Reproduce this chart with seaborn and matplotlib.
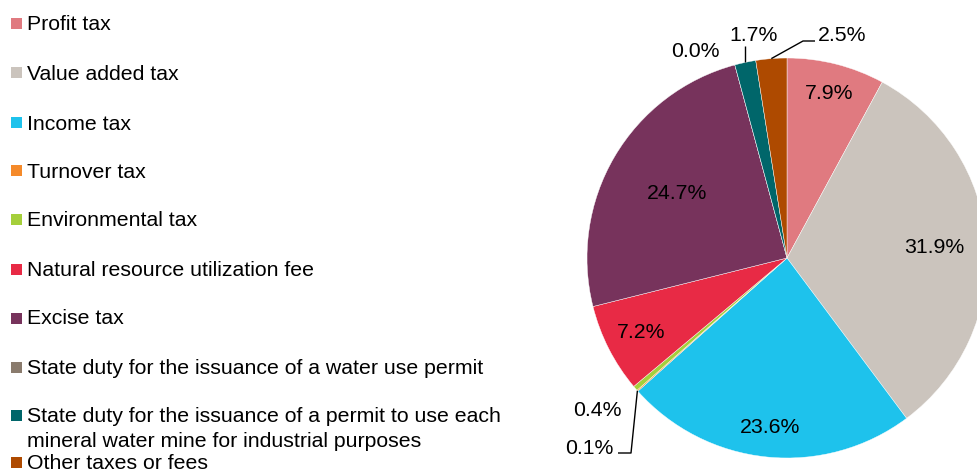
import numpy as np
import matplotlib
matplotlib.use("Agg")
import matplotlib.pyplot as plt
from matplotlib.patches import Rectangle
import seaborn as sns

sns.set_style("white")
plt.rcParams["font.family"] = ["Liberation Sans", "DejaVu Sans"]
plt.rcParams["text.color"] = "black"

# Shares of tax revenue, percent
categories = [
    "Profit tax",
    "Value added tax",
    "Income tax",
    "Turnover tax",
    "Environmental tax",
    "Natural resource utilization fee",
    "Excise tax",
    "State duty for the issuance of a water use permit",
    "State duty for the issuance of a permit to use each\nmineral water mine for industrial purposes",
    "Other taxes or fees",
]
shares = [7.9, 31.9, 23.6, 0.1, 0.4, 7.2, 24.7, 0.0, 1.7, 2.5]
labels = [f"{v:.1f}%" for v in shares]

colors = sns.color_palette([
    "#E07A80", "#CBC4BD", "#1EC2EC", "#F58A2A", "#A5CF3B",
    "#E82A45", "#77335C", "#8A7B6D", "#00666A", "#AE4A00",
])

W, H = 977, 473
fig = plt.figure(figsize=(W / 100, H / 100), dpi=100)

# Pie axes: center (787, 258) px, radius 200 px
cx, cy, r = 787, 258, 200
ax = fig.add_axes([(cx - r) / W, (H - cy - r) / H, 2 * r / W, 2 * r / H])

wedges, _ = ax.pie(
    shares, colors=colors, startangle=90, counterclock=False, radius=1,
    wedgeprops=dict(edgecolor="white", linewidth=0.3),
)
ax.set_xlim(-1, 1)
ax.set_ylim(-1, 1)
ax.set_aspect("equal")
ax.axis("off")

fs = 15.3
# mid-angles of each slice
cum = np.cumsum([0] + shares)
mid = [np.deg2rad(90 - 3.6 * (cum[i] + cum[i + 1]) / 2) for i in range(len(shares))]

# labels placed inside the larger slices
inside = {0: 0.85, 1: 0.74, 2: 0.85, 5: 0.82, 6: 0.64}
for i, d in inside.items():
    ax.text(d * np.cos(mid[i]), d * np.sin(mid[i]), labels[i],
            ha="center", va="center", fontsize=fs, color="black")

# outside labels with leader lines
lc = dict(color="black", lw=1.0, solid_capstyle="butt")

# state duty, water use permit
ax.text(-0.335, 1.035, labels[7], ha="right", va="center", fontsize=fs)

# state duty, mineral water mine
a = mid[8]
ax.plot([np.cos(a), np.cos(a)], [np.sin(a), 1.06], **lc, clip_on=False)
ax.text(-0.165, 1.115, labels[8], ha="center", va="center", fontsize=fs)

# other taxes or fees
a = mid[9]
ax.plot([np.cos(a), 0.08, 0.14], [np.sin(a), 1.085, 1.085], **lc, clip_on=False)
ax.text(0.155, 1.115, labels[9], ha="left", va="center", fontsize=fs)

# environmental tax
ax.text(-0.825, -0.765, labels[4], ha="right", va="center", fontsize=fs)

# turnover tax
a = mid[3]
ax.plot([np.cos(a), -0.78, -0.845], [np.sin(a), -0.975, -0.975], **lc, clip_on=False)
ax.text(-0.87, -0.955, labels[3], ha="right", va="center", fontsize=fs)

# Legend drawn as squares and text in figure pixels
rows_y = [24, 73, 123, 171, 220, 269, 318, 367, 415, 462]
for name, col, y in zip(categories, colors, rows_y):
    fig.patches.append(Rectangle((11 / W, (H - y - 5.5) / H), 11 / W, 11 / H,
                                 transform=fig.transFigure, facecolor=col,
                                 edgecolor="none"))
    for k, line in enumerate(name.split("\n")):
        fig.text(27 / W, (H - y - 1 - 25 * k) / H, line, ha="left", va="center",
                 fontsize=fs, color="black")

fig.savefig("out.png", dpi=100)
